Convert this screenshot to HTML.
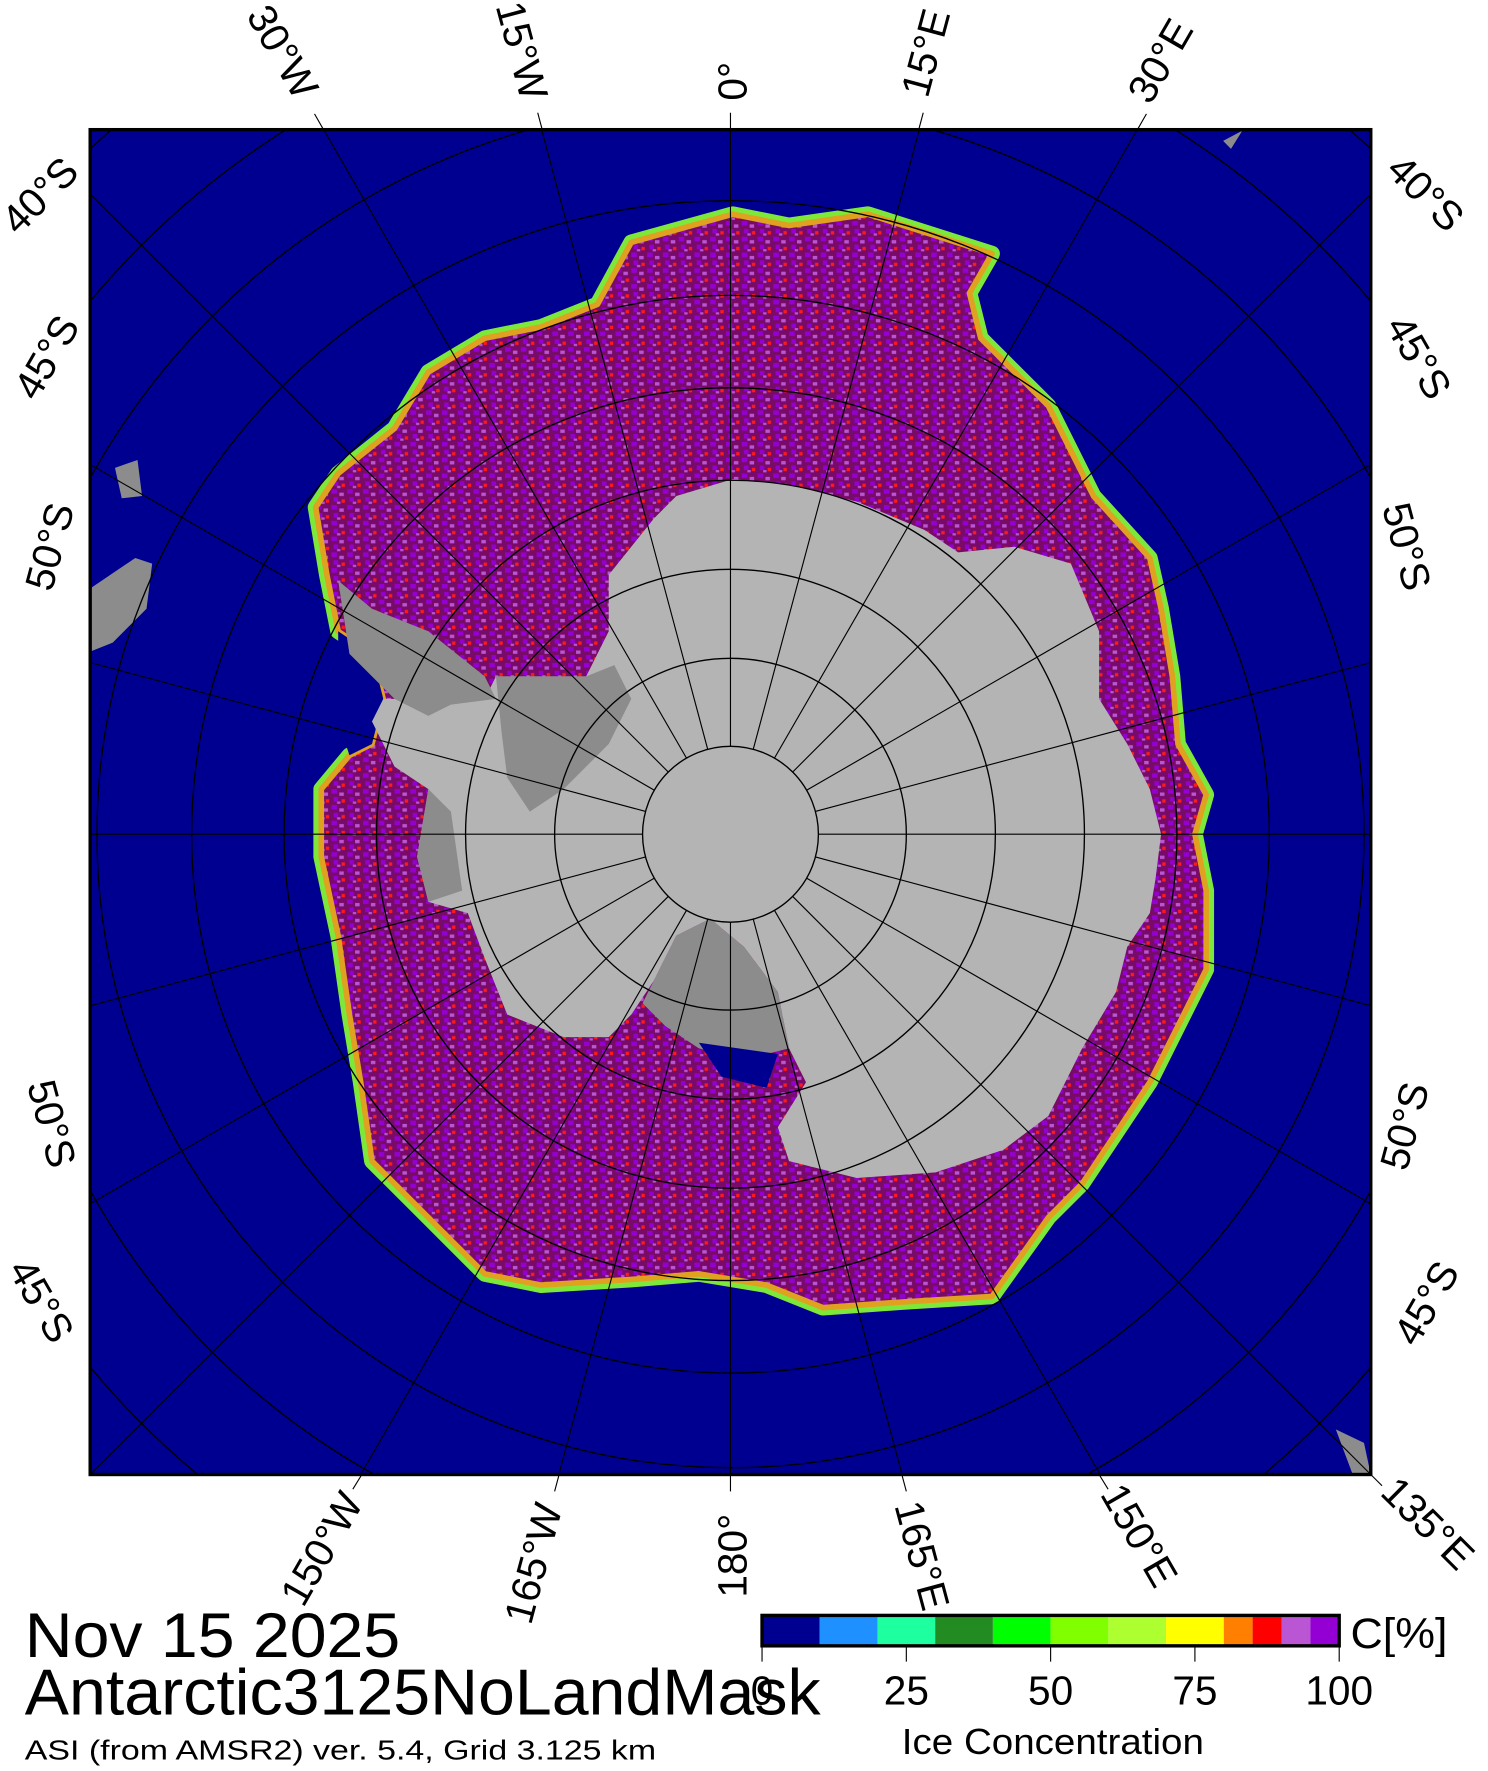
<!DOCTYPE html>
<html><head><meta charset="utf-8"><style>
html,body{margin:0;padding:0;background:#fff;overflow:hidden;width:1488px;height:1771px;}
svg{display:block;overflow:hidden;}
text{font-family:"Liberation Sans",sans-serif;fill:#000;}
</style></head><body>
<svg width="1488" height="1771" viewBox="0 0 1320 1571" xmlns="http://www.w3.org/2000/svg">
<defs>
<clipPath id="fr"><rect x="80" y="115" width="1136" height="1193"/></clipPath>
<clipPath id="all"><rect x="0" y="0" width="1320" height="1571"/></clipPath>
<pattern id="ice" width="14" height="14" patternUnits="userSpaceOnUse">
<rect width="14" height="14" fill="#780a68"/>
<rect x="0" y="0" width="5" height="4" fill="#9400d3"/>
<rect x="7" y="3" width="4" height="3" fill="#ba55d3"/>
<rect x="2" y="7" width="4" height="4" fill="#9400d3"/>
<rect x="9" y="9" width="3" height="3" fill="#ff1a1a"/>
<rect x="5" y="11" width="3" height="2" fill="#ba55d3"/>
</pattern>
</defs>
<g clip-path="url(#all)">
<rect x="0" y="0" width="1320" height="1571" fill="#fff"/>
<g clip-path="url(#fr)">
<rect x="80" y="115" width="1136" height="1193" fill="#000090"/>
<polygon points="80,522 120,495 135,500 130,540 100,570 80,578" fill="#8c8c8c"/>
<polygon points="102,415 122,408 126,440 108,442" fill="#8c8c8c"/>
<polygon points="1085,125 1102,116 1092,132" fill="#8c8c8c"/>
<polygon points="1185,1268 1210,1280 1216,1308 1200,1308" fill="#8c8c8c"/>
<polygon points="560,215 650,190 700,200 770,190 880,225 860,260 870,300 900,330 930,360 950,400 970,440 1020,495 1030,540 1040,600 1045,660 1070,705 1060,740 1070,790 1070,860 1040,920 1020,960 960,1050 930,1080 880,1150 800,1155 730,1160 680,1140 620,1130 560,1135 480,1140 430,1130 380,1080 330,1030 320,960 310,900 300,830 285,760 285,700 310,670 330,660 340,620 330,580 300,560 290,510 280,450 300,420 350,380 380,330 430,300 480,290 530,270" fill="none" stroke="#7ee83a" stroke-width="14" stroke-linejoin="round"/>
<polygon points="560,215 650,190 700,200 770,190 880,225 860,260 870,300 900,330 930,360 950,400 970,440 1020,495 1030,540 1040,600 1045,660 1070,705 1060,740 1070,790 1070,860 1040,920 1020,960 960,1050 930,1080 880,1150 800,1155 730,1160 680,1140 620,1130 560,1135 480,1140 430,1130 380,1080 330,1030 320,960 310,900 300,830 285,760 285,700 310,670 330,660 340,620 330,580 300,560 290,510 280,450 300,420 350,380 380,330 430,300 480,290 530,270" fill="url(#ice)" stroke="#e0a020" stroke-width="5" stroke-linejoin="round"/>
<polygon points="300,560 330,580 340,620 330,660 310,670 300,640" fill="#000090"/>
<polygon points="650,425 700,430 760,445 820,470 850,490 900,485 950,500 975,560 975,620 1000,660 1020,700 1030,740 1025,780 1020,810 1000,840 990,880 960,930 930,990 890,1020 830,1040 760,1045 700,1030 690,1000 715,960 700,930 690,880 660,840 630,815 600,830 580,870 560,900 540,920 500,920 450,900 430,850 415,810 380,800 370,760 380,700 350,680 330,640 340,620 380,620 430,620 440,600 520,600 540,560 540,510 580,460 600,440" fill="#b4b4b4"/>
<polygon points="300,515 330,540 380,560 430,600 440,620 400,625 380,635 350,620 330,600 310,580" fill="#8c8c8c"/>
<polygon points="440,600 520,600 545,590 560,620 540,660 500,700 470,720 450,690 445,650" fill="#8c8c8c"/>
<polygon points="600,830 630,815 660,840 690,880 700,930 660,940 620,930 590,910 570,890 580,870" fill="#8c8c8c"/>
<polygon points="370,760 380,700 400,720 410,790 380,800" fill="#8c8c8c"/>
<polygon points="620,925 690,935 680,965 640,955" fill="#000090"/>
<g fill="none" stroke="#000" stroke-width="1.2">
<circle cx="648" cy="740" r="78"/><circle cx="648" cy="740" r="156"/><circle cx="648" cy="740" r="235"/><circle cx="648" cy="740" r="314"/><circle cx="648" cy="740" r="396"/><circle cx="648" cy="740" r="478"/><circle cx="648" cy="740" r="562"/><circle cx="648" cy="740" r="650"/><circle cx="648" cy="740" r="739"/><circle cx="648" cy="740" r="832"/>
</g>
<g stroke="#000" stroke-width="1">
<line x1="648" y1="662" x2="648" y2="0"/>
<line x1="668.2" y1="664.7" x2="907.6" y2="-228.7"/>
<line x1="687" y1="672.5" x2="1148" y2="-126"/>
<line x1="703.2" y1="684.8" x2="1355" y2="33"/>
<line x1="715.5" y1="701" x2="1514" y2="240"/>
<line x1="723.3" y1="719.8" x2="1616.7" y2="480.4"/>
<line x1="726" y1="740" x2="1648" y2="740"/>
<line x1="723.3" y1="760.2" x2="1616.7" y2="999.6"/>
<line x1="715.5" y1="779" x2="1514" y2="1240"/>
<line x1="703.2" y1="795.2" x2="1355" y2="1447"/>
<line x1="687" y1="807.5" x2="1148" y2="1606"/>
<line x1="668.2" y1="815.3" x2="907.6" y2="1708.7"/>
<line x1="648" y1="818" x2="648" y2="1740"/>
<line x1="627.8" y1="815.3" x2="388.4" y2="1708.7"/>
<line x1="609" y1="807.5" x2="148" y2="1606"/>
<line x1="592.8" y1="795.2" x2="-59" y2="1447"/>
<line x1="580.5" y1="779" x2="-218" y2="1240"/>
<line x1="572.7" y1="760.2" x2="-320.7" y2="999.6"/>
<line x1="570" y1="740" x2="-352" y2="740"/>
<line x1="572.7" y1="719.8" x2="-320.7" y2="480.4"/>
<line x1="580.5" y1="701" x2="-218" y2="240"/>
<line x1="592.8" y1="684.8" x2="-59" y2="33"/>
<line x1="609" y1="672.5" x2="148" y2="-126"/>
<line x1="627.8" y1="664.7" x2="388.4" y2="-228.7"/>
</g>
</g>
<g stroke="#000" stroke-width="1">
<line x1="648" y1="115" x2="648" y2="100"/><line x1="815" y1="115" x2="819" y2="100"/><line x1="1009" y1="115" x2="1017" y2="101"/>
<line x1="481" y1="115" x2="477" y2="100"/><line x1="287" y1="115" x2="279" y2="101"/>
<line x1="648" y1="1308" x2="648" y2="1323"/><line x1="800" y1="1308" x2="804" y2="1323"/><line x1="975" y1="1308" x2="983" y2="1321"/><line x1="1216" y1="1308" x2="1226" y2="1318"/>
<line x1="496" y1="1308" x2="492" y2="1323"/><line x1="321" y1="1308" x2="313" y2="1321"/>
</g>
<rect x="80" y="115" width="1136" height="1193" fill="none" stroke="#000" stroke-width="3"/>
<g font-size="36">
<text transform="translate(662,72) rotate(-90)" text-anchor="middle">0°</text>
<text transform="translate(833,50) rotate(-75)" text-anchor="middle">15°E</text>
<text transform="translate(1040,60) rotate(-60)" text-anchor="middle">30°E</text>
<text transform="translate(451,48) rotate(75)" text-anchor="middle">15°W</text>
<text transform="translate(240,52) rotate(60)" text-anchor="middle">30°W</text>
<text transform="translate(662,1380) rotate(-90)" text-anchor="middle">180°</text>
<text transform="translate(485,1390) rotate(-75)" text-anchor="middle">165°W</text>
<text transform="translate(296,1380) rotate(-60)" text-anchor="middle">150°W</text>
<text transform="translate(806,1383) rotate(75)" text-anchor="middle">165°E</text>
<text transform="translate(1000,1368) rotate(60)" text-anchor="middle">150°E</text>
<text transform="translate(1258,1360) rotate(45)" text-anchor="middle">135°E</text>
<text transform="translate(1256,180) rotate(45)" text-anchor="middle">40°S</text>
<text transform="translate(1248,323) rotate(60)" text-anchor="middle">45°S</text>
<text transform="translate(1236,488) rotate(75)" text-anchor="middle">50°S</text>
<text transform="translate(1258,1002) rotate(-75)" text-anchor="middle">50°S</text>
<text transform="translate(1276,1162) rotate(-60)" text-anchor="middle">45°S</text>
<text transform="translate(44,182) rotate(-45)" text-anchor="middle">40°S</text>
<text transform="translate(52,323) rotate(-60)" text-anchor="middle">45°S</text>
<text transform="translate(56,488) rotate(-75)" text-anchor="middle">50°S</text>
<text transform="translate(34,1000) rotate(75)" text-anchor="middle">50°S</text>
<text transform="translate(26,1160) rotate(60)" text-anchor="middle">45°S</text>
</g>
<text x="22" y="1470" font-size="56" textLength="333" lengthAdjust="spacingAndGlyphs">Nov 15 2025</text>
<text x="22" y="1521" font-size="58" textLength="706" lengthAdjust="spacingAndGlyphs">Antarctic3125NoLandMask</text>
<text x="22" y="1561" font-size="25" textLength="560" lengthAdjust="spacingAndGlyphs">ASI (from AMSR2) ver. 5.4,  Grid 3.125 km</text>
<rect x="676" y="1433" width="51.2" height="27" fill="#000090"/>
<rect x="727.2" y="1433" width="51.2" height="27" fill="#1e90ff"/>
<rect x="778.4" y="1433" width="51.2" height="27" fill="#1effa0"/>
<rect x="829.6" y="1433" width="51.2" height="27" fill="#228b22"/>
<rect x="880.8" y="1433" width="51.2" height="27" fill="#00ff00"/>
<rect x="932" y="1433" width="51.2" height="27" fill="#7fff00"/>
<rect x="983.2" y="1433" width="51.2" height="27" fill="#adff2f"/>
<rect x="1034.4" y="1433" width="51.2" height="27" fill="#ffff00"/>
<rect x="1085.6" y="1433" width="25.6" height="27" fill="#ff8000"/>
<rect x="1111.2" y="1433" width="25.6" height="27" fill="#ff0000"/>
<rect x="1136.8" y="1433" width="25.6" height="27" fill="#ba55d3"/>
<rect x="1162.4" y="1433" width="25.6" height="27" fill="#9400d3"/>
<rect x="676" y="1433" width="512" height="27" fill="none" stroke="#000" stroke-width="3"/>
<g stroke="#000" stroke-width="1"><line x1="676" y1="1460" x2="676" y2="1474"/><line x1="804" y1="1460" x2="804" y2="1474"/><line x1="932" y1="1460" x2="932" y2="1474"/><line x1="1060" y1="1460" x2="1060" y2="1474"/><line x1="1188" y1="1460" x2="1188" y2="1474"/></g>
<g font-size="36" text-anchor="middle"><text x="676" y="1512">0</text><text x="804" y="1512">25</text><text x="932" y="1512">50</text><text x="1060" y="1512">75</text><text x="1188" y="1512">100</text></g>
<text x="1198" y="1462" font-size="38" textLength="86" lengthAdjust="spacingAndGlyphs">C[%]</text>
<text x="934" y="1556" font-size="32" text-anchor="middle" textLength="268" lengthAdjust="spacingAndGlyphs">Ice Concentration</text>
</g>
</svg>
</body></html>
